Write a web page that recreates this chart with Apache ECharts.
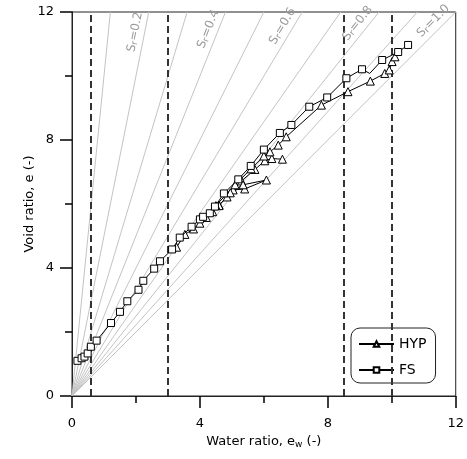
<!DOCTYPE html>
<html><head><meta charset="utf-8">
<script src="https://cdn.jsdelivr.net/npm/echarts@6/dist/echarts.min.js"></script>
<style>html,body{margin:0;padding:0;background:#fff}#c{width:467px;height:459px}</style>
</head><body><div id="c"></div>
<script>
// Degree-of-saturation reference lines (e = ew / Sr)
const srValues = [0.1, 0.2, 0.3, 0.4, 0.5, 0.6, 0.7, 0.8, 0.9, 1.0];
const srLabelled = [0.2, 0.4, 0.6, 0.8, 1.0];
// Dashed vertical reference lines (water ratio)
const dashedEw = [0.6, 3.0, 8.5, 10.0];
// FS series
const fsEw = [0.17, 0.30, 0.39, 0.49, 0.59, 0.77, 1.22, 1.50, 1.73, 2.08, 2.23, 2.57, 2.75, 3.13, 3.37, 3.74, 4.00, 4.10, 4.31, 4.47, 4.75, 5.20, 5.59, 6.00, 6.50, 6.86, 7.42, 7.98, 8.58, 9.07, 9.31, 9.70, 10.20, 10.51];
const fsE  = [1.10, 1.18, 1.23, 1.33, 1.54, 1.73, 2.28, 2.63, 2.96, 3.32, 3.60, 3.98, 4.21, 4.58, 4.95, 5.29, 5.52, 5.60, 5.71, 5.92, 6.33, 6.77, 7.19, 7.70, 8.22, 8.47, 9.04, 9.33, 9.93, 10.21, 10.08, 10.50, 10.75, 10.97];
const fsNoMarker = [9.31];
// HYP series (null separates test branches)
const hypEw = [3.27, 3.53, 3.80, 4.00, 4.20, 4.40, 4.60, 4.85, 5.30, 5.72, 6.03, 6.25, 6.58, null,
               4.60, 5.04, 5.40, 6.08, 5.35, 4.95, null,
               4.50, 5.10, 5.60, 6.00, 6.19, 6.45, 6.70, 7.80, 8.63, 9.33, 9.78, 9.92, 10.01, 10.10];
const hypE  = [4.65, 5.05, 5.22, 5.40, 5.58, 5.76, 5.97, 6.22, 6.72, 7.08, 7.35, 7.42, 7.40, null,
               5.95, 6.44, 6.47, 6.75, 6.60, 6.35, null,
               5.95, 6.60, 7.10, 7.50, 7.63, 7.84, 8.10, 9.09, 9.51, 9.84, 10.08, 10.19, 10.45, 10.60];
const axisMin = 0, axisMax = 12;
const majorStep = 4, minorStep = 2;

const FONT = 'DejaVu Sans';
const fsData = fsEw.map((x, i) => fsNoMarker.includes(x) ? {value: [x, fsE[i]], symbol: 'none'} : [x, fsE[i]]);
const hypData = hypEw.map((x, i) => x === null ? ['-', '-'] : [x, hypE[i]]);

const srLines = srValues.map(sr => {
  const endEw = Math.round(axisMax * sr * 1000) / 1000;
  const labelled = srLabelled.includes(sr);
  return [
    {coord: [0, 0], label: {show: labelled, formatter: '{a|S}{b|r}{a|=' + sr.toFixed(1) + '}'}},
    {coord: [endEw, axisMax]}
  ];
});
const dashLines = dashedEw.map(x => ({xAxis: x}));

const chart = echarts.init(document.getElementById('c'));
chart.setOption({
  animation: false,
  backgroundColor: '#fff',
  grid: {left: 72, right: 11, top: 12, bottom: 63, show: true, borderColor: '#222', borderWidth: 1, backgroundColor: 'transparent'},
  xAxis: [{
    type: 'value', min: axisMin, max: axisMax, interval: majorStep, position: 'bottom',
    name: 'Water ratio, e{sub|w} (-)', nameLocation: 'middle', nameGap: 38, nameMoveOverlap: false,
    nameTextStyle: {fontFamily: FONT, fontSize: 13, color: '#000',
      rich: {sub: {fontFamily: FONT, fontSize: 9, color: '#000', verticalAlign: 'bottom', padding: [6, 0, 0, 0]}}},
    axisLine: {show: true, onZero: false, lineStyle: {color: '#222', width: 1}},
    axisTick: {show: true, inside: false, length: 12, lineStyle: {color: '#000', width: 1.5}},
    splitLine: {show: false},
    axisLabel: {show: true, fontFamily: FONT, fontSize: 13, color: '#000', margin: 21}
  }, {
    type: 'value', min: axisMin, max: axisMax, interval: minorStep, position: 'bottom',
    axisLine: {show: true, onZero: false, lineStyle: {color: '#222', width: 1}},
    axisTick: {show: true, inside: false, length: 7, lineStyle: {color: '#000', width: 1.5}},
    splitLine: {show: false},
    axisLabel: {show: false}
  }],
  yAxis: [{
    type: 'value', min: axisMin, max: axisMax, interval: majorStep, position: 'left',
    name: 'Void ratio, e (-)', nameLocation: 'middle', nameGap: 36, nameMoveOverlap: false,
    nameTextStyle: {fontFamily: FONT, fontSize: 13, color: '#000'},
    axisLine: {show: true, onZero: false, lineStyle: {color: '#222', width: 1}},
    axisTick: {show: true, inside: false, length: 12, lineStyle: {color: '#000', width: 1.5}},
    splitLine: {show: false},
    axisLabel: {show: true, fontFamily: FONT, fontSize: 13, color: '#000', margin: 6, padding: [0, 12, 0, 0], align: 'right'}
  }, {
    type: 'value', min: axisMin, max: axisMax, interval: minorStep, position: 'left',
    axisLine: {show: true, onZero: false, lineStyle: {color: '#222', width: 1}},
    axisTick: {show: true, inside: false, length: 7, lineStyle: {color: '#000', width: 1.5}},
    splitLine: {show: false},
    axisLabel: {show: false}
  }],
  legend: {
    data: ['HYP', 'FS'], orient: 'vertical', left: 351, top: 328,
    backgroundColor: '#fff', borderColor: '#222', borderWidth: 1, borderRadius: 9,
    padding: [9, 9, 6, 7], itemWidth: 35, itemHeight: 7, itemGap: 12,
    textStyle: {fontFamily: FONT, fontSize: 14, color: '#000'}
  },
  series: [
    {
      type: 'line', name: 'sr', data: [], silent: true,
      markLine: {
        silent: true, symbol: ['none', 'none'], animation: false,
        lineStyle: {color: '#c4c4c4', width: 1, type: 'solid'},
        label: {position: 'insideEndTop', distance: [2, 3], color: '#9a9a9a',
          rich: {a: {fontFamily: FONT, fontSize: 12, color: '#9a9a9a'},
                 b: {fontFamily: FONT, fontSize: 9, color: '#9a9a9a', verticalAlign: 'bottom', padding: [4, 0, 0, 0]}}},
        emphasis: {disabled: true},
        data: srLines
      }
    },
    {
      type: 'line', name: 'dash', data: [], silent: true,
      markLine: {
        silent: true, symbol: ['none', 'none'], animation: false,
        lineStyle: {color: '#333', width: 2, type: [7, 4]},
        label: {show: false}, emphasis: {disabled: true},
        data: dashLines
      }
    },
    {
      type: 'line', name: 'HYP', data: hypData, connectNulls: false,
      symbol: 'triangle', symbolSize: 8, z: 5,
      lineStyle: {color: '#000', width: 1},
      itemStyle: {color: '#fff', borderColor: '#000', borderWidth: 1}
    },
    {
      type: 'line', name: 'FS', data: fsData,
      symbol: 'rect', symbolSize: 7, z: 6,
      lineStyle: {color: '#000', width: 1},
      itemStyle: {color: '#fff', borderColor: '#000', borderWidth: 1}
    }
  ]
});
</script>
</body></html>
